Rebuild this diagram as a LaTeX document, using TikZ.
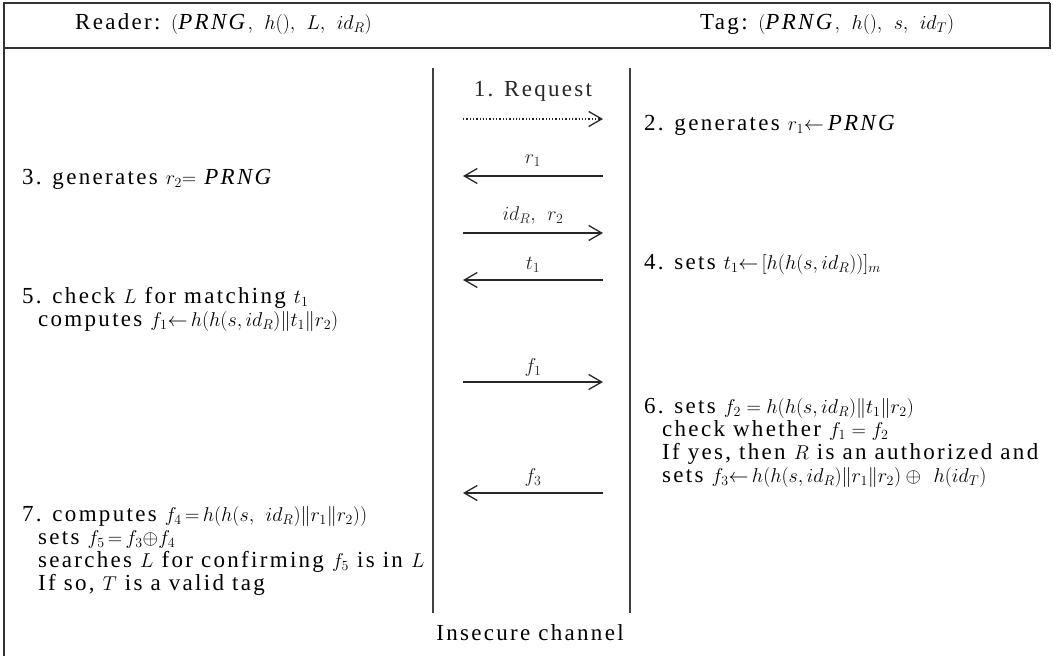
\documentclass[tikz,border=0pt]{standalone}
\usepackage{fix-cm}
\usepackage{fontspec}
\setmainfont{Liberation Serif}[LetterSpace=10]
\DeclareMathSizes{23}{20}{14}{10}
\usetikzlibrary{arrows.meta}
\begin{document}
\begin{tikzpicture}[x=1pt,y=-1pt,
  frame/.style={line width=1.3pt, black!80},
  chan/.style={line width=1.1pt, black!75},
  msg/.style={line width=1.3pt, black!85, -{Straight Barb[length=13pt,width=15pt,line width=1.3pt]}},
  dmsg/.style={msg, dotted},
  txt/.style={anchor=west, inner sep=0pt, text height=11pt, text depth=4pt, font=\fontsize{23}{27}\selectfont},
  lbl/.style={anchor=south, inner sep=0pt, text height=11pt, text depth=4pt, font=\fontsize{23}{27}\selectfont, yshift=7.5pt},
  ctxt/.style={inner sep=0pt, text height=11pt, text depth=4pt, font=\fontsize{23}{27}\selectfont}]
\useasboundingbox (0,0) rectangle (1053,658);
% frame
\coordinate (tl) at (4,3);
\coordinate (tr) at (1050,3);
\coordinate (hl) at (4,48);
\coordinate (hr) at (1050,48);
\coordinate (bl) at (4,656);
\draw[frame] (tr) -- (tl) -- (bl);
\draw[frame] (tr) -- (hr) -- (hl);
% header
\node[txt] (reader) at (75,26) {Reader: $($\textit{PRNG}$,\ h(),\ L,\ id_R)$};
\node[txt] (tag) at (700,26) {Tag: $($\textit{PRNG}$,\ h(),\ s,\ id_T)$};
% channel
\coordinate (c1t) at (433,68);
\coordinate (c1b) at (433,613);
\coordinate (c2t) at (630,68);
\coordinate (c2b) at (630,613);
\draw[chan] (c1t) -- (c1b);
\draw[chan] (c2t) -- (c2b);
\node[ctxt] (ins) at (530,637) {Insecure channel};
% messages
\coordinate (m1l) at (463,119); \coordinate (m1r) at (603,119);
\coordinate (m2l) at (463,176); \coordinate (m2r) at (603,176);
\coordinate (m3l) at (463,233); \coordinate (m3r) at (603,233);
\coordinate (m4l) at (463,280); \coordinate (m4r) at (603,280);
\coordinate (m5l) at (463,382); \coordinate (m5r) at (603,382);
\coordinate (m6l) at (463,493); \coordinate (m6r) at (603,493);
\draw[dmsg] (m1l) -- node[lbl, yshift=10pt] (l1) {1. Request} (m1r);
\draw[msg] (m2r) -- node[lbl] (l2) {$r_1$} (m2l);
\draw[msg] (m3l) -- node[lbl] (l3) {$id_R,\ r_2$} (m3r);
\draw[msg] (m4r) -- node[lbl, yshift=-2pt] (l4) {$t_1$} (m4l);
\draw[msg] (m5l) -- node[lbl, yshift=-3pt] (l5) {$f_1$} (m5r);
\draw[msg] (m6r) -- node[lbl, yshift=-2pt] (l6) {$f_3$} (m6l);
% reader side
\node[txt] (s3) at (22,181) {3. generates $r_2{=}$ \textit{PRNG}};
\node[txt] (s5a) at (22,300) {5. check $L$ for matching $t_1$};
\node[txt] (s5b) at (38,323) {computes $f_1{\leftarrow}\, h(h(s,id_R)\|t_1\|r_2)$};
\node[txt] (s7a) at (22,518) {7. computes $f_4\,{=}\,h(h(s,\ id_R)\|r_1\|r_2))$};
\node[txt] (s7b) at (38,541) {sets $f_5\,{=}\,f_3{\oplus} f_4$};
\node[txt] (s7c) at (38,564) {searches $L$ for confirming $f_5$ is in $L$};
\node[txt] (s7d) at (38,587) {If so, $T$ is a valid tag};
% tag side
\node[txt] (s2) at (644,127) {2. generates $r_1{\leftarrow}$\,\textit{PRNG}};
\node[txt] (s4) at (644,266) {4. sets $t_1{\leftarrow}\,[h(h(s,id_R))]_m$};
\node[txt] (s6a) at (644,410) {6. sets $f_2=h(h(s,id_R)\|t_1\|r_2)$};
\node[txt] (s6b) at (662,433) {check whether $f_1=f_2$};
\node[txt] (s6c) at (662,456) {If yes, then $R$ is an authorized and};
\node[txt] (s6d) at (662,479) {sets $f_3{\leftarrow}\, h(h(s,id_R)\|r_1\|r_2)\oplus\ h(id_T)$};
\end{tikzpicture}
\end{document}
